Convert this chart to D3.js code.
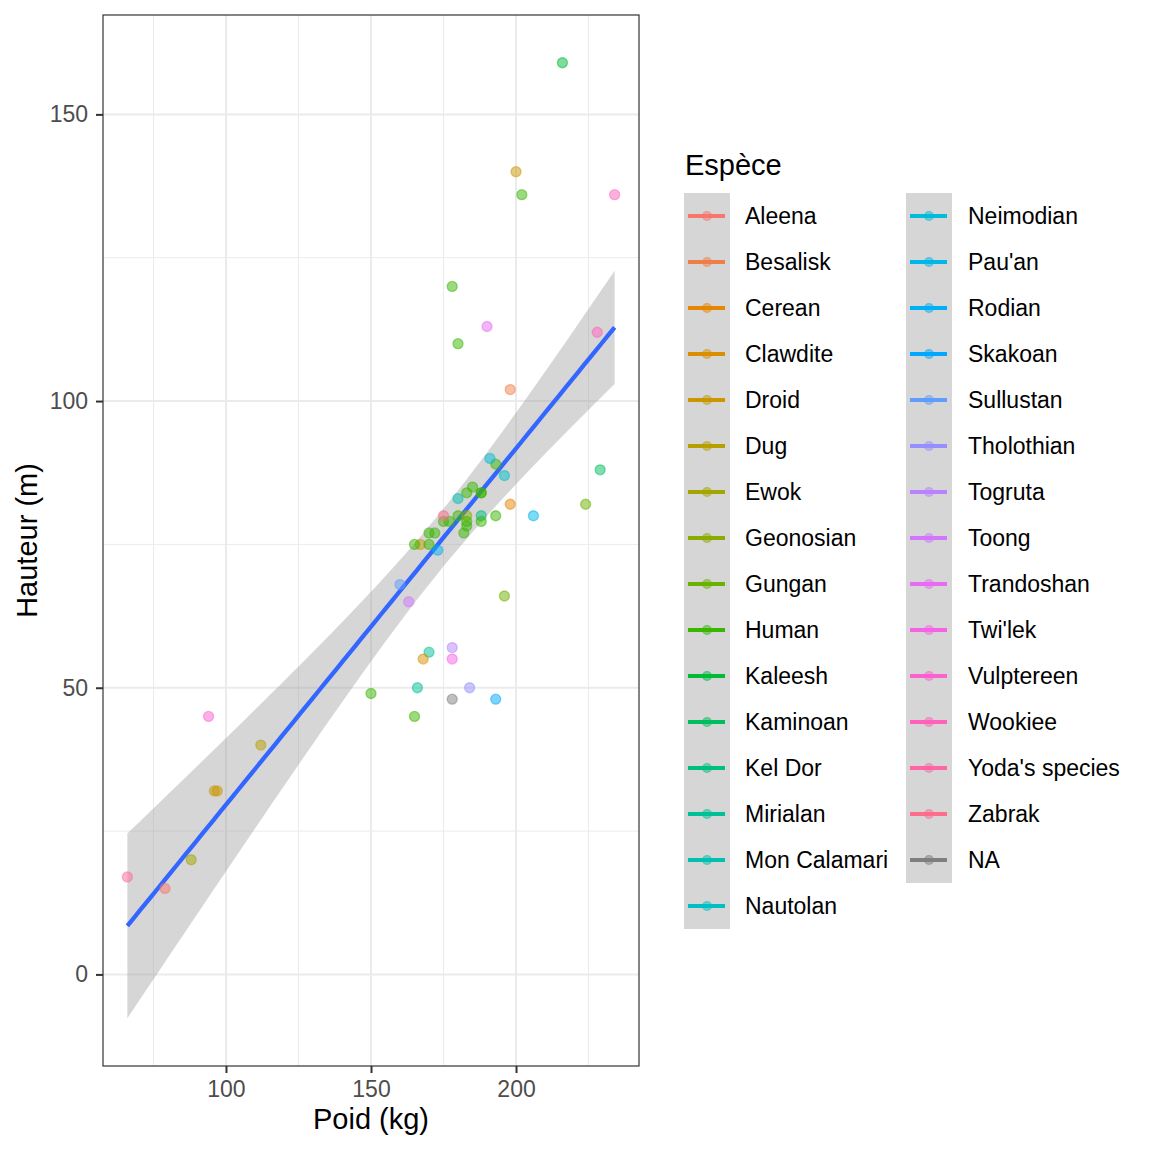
<!DOCTYPE html>
<html>
<head>
<meta charset="utf-8">
<script src="https://cdn.jsdelivr.net/npm/d3@7"></script>
<style>
  html, body { margin: 0; padding: 0; background: #ffffff; }
  svg { display: block; font-family: "Liberation Sans", Arial, Helvetica, sans-serif; }
</style>
</head>
<body>
<svg id="chart" width="1152" height="1152"></svg>
<script>
// ---------------- DATA ----------------
// height (x, labelled "Poid (kg)") and mass (y, labelled "Hauteur (m)") per character
const heights = [172,167,96,202,150,178,165,97,183,182,188,228,180,173,170,180,66,170,183,200,190,177,175,180,88,160,193,191,165,196,224,112,175,178,79,94,163,188,198,196,184,188,185,183,170,166,193,183,168,198,229,193,178,216,234,188,178,206];
const masses  = [77,75,32,136,49,120,75,32,84,77,84,112,80,74,77,110,17,75,78.2,140,113,79,79,83,20,68,89,90,45,66,82,40,80,55,15,45,65,84,82,87,50,80,85,80,56.2,50,80,79,55,102,88,48,57,159,136,79,48,80];
const pointSpecies = ["Human","Droid","Droid","Human","Human","Human","Human","Droid","Human","Human","Human","Wookiee","Human","Rodian","Human","Human","Yoda's species","Human","Human","Droid","Trandoshan","Human","Human","Mon Calamari","Ewok","Sullustan","Human","Neimodian","Human","Gungan","Gungan","Dug","Zabrak","Twi'lek","Aleena","Vulptereen","Toong","Human","Cerean","Nautolan","Tholothian","Kel Dor","Human","Geonosian","Mirialan","Mirialan","Human","Human","Clawdite","Besalisk","Kaminoan","Skakoan","Togruta","Kaleesh","Wookiee","Human","NA","Pau'an"];
const speciesLevels = ["Aleena","Besalisk","Cerean","Clawdite","Droid","Dug","Ewok","Geonosian","Gungan","Human","Kaleesh","Kaminoan","Kel Dor","Mirialan","Mon Calamari","Nautolan","Neimodian","Pau'an","Rodian","Skakoan","Sullustan","Tholothian","Togruta","Toong","Trandoshan","Twi'lek","Vulptereen","Wookiee","Yoda's species","Zabrak"];
const legendLabels = speciesLevels.concat(["NA"]);
const xTitle = "Poid (kg)";
const yTitle = "Hauteur (m)";
const legendTitle = "Espèce";

// ---------------- HELPERS ----------------
// polar LUV (R's hcl) -> hex
function hclLuv(h, c, l) {
  const Xn = 95.047, Yn = 100, Zn = 108.883;
  const hr = h * Math.PI / 180;
  const U = c * Math.cos(hr), V = c * Math.sin(hr);
  const Y = l > 8 ? Yn * Math.pow((l + 16) / 116, 3) : Yn * l / 903.3;
  const den = Xn + 15 * Yn + 3 * Zn;
  const un = 4 * Xn / den, vn = 9 * Yn / den;
  const up = U / (13 * l) + un, vp = V / (13 * l) + vn;
  const X = 9 * Y * up / (4 * vp);
  const Z = Y * (12 - 3 * up - 20 * vp) / (4 * vp);
  const x = X / 100, y = Y / 100, z = Z / 100;
  const lin = [
    3.240479 * x - 1.537150 * y - 0.498535 * z,
   -0.969256 * x + 1.875992 * y + 0.041556 * z,
    0.055648 * x - 0.204043 * y + 1.057311 * z
  ];
  const g = lin.map(v => {
    let s = v <= 0.0031308 ? 12.92 * v : 1.055 * Math.pow(v, 1 / 2.4) - 0.055;
    s = Math.max(0, Math.min(1, s));
    return Math.round(s * 255);
  });
  return d3.rgb(g[0], g[1], g[2]).formatHex();
}
const nLev = speciesLevels.length;
const palette = speciesLevels.map((s, i) => hclLuv(15 + 360 * i / nLev, 100, 65));
const color = d3.scaleOrdinal().domain(speciesLevels).range(palette).unknown("#7F7F7F");
const colorOf = s => (s === "NA" ? "#7F7F7F" : color(s));

// ---------------- LINEAR MODEL ----------------
const n = heights.length;
const xbar = d3.mean(heights), ybar = d3.mean(masses);
let sxx = 0, sxy = 0;
for (let i = 0; i < n; i++) { sxx += (heights[i] - xbar) ** 2; sxy += (heights[i] - xbar) * (masses[i] - ybar); }
const slope = sxy / sxx, intercept = ybar - slope * xbar;
let rss = 0;
for (let i = 0; i < n; i++) rss += (masses[i] - (intercept + slope * heights[i])) ** 2;
const sigma = Math.sqrt(rss / (n - 2));
// t quantile (0.975, df) via Cornish-Fisher expansion
const df = n - 2, z = 1.959963985;
const tq = z + (z ** 3 + z) / (4 * df) + (5 * z ** 5 + 16 * z ** 3 + 3 * z) / (96 * df * df) + (3 * z ** 7 + 19 * z ** 5 + 17 * z ** 3 - 15 * z) / (384 * df ** 3);
const [xmin, xmax] = d3.extent(heights);
const fit = d3.range(80).map(k => {
  const xv = xmin + (xmax - xmin) * k / 79;
  const yv = intercept + slope * xv;
  const se = sigma * Math.sqrt(1 / n + (xv - xbar) ** 2 / sxx);
  return { x: xv, y: yv, lo: yv - tq * se, hi: yv + tq * se };
});

// ---------------- SCALES ----------------
const P = { left: 103, right: 639, top: 15, bottom: 1066 };
function expand(ext) { const r = ext[1] - ext[0]; return [ext[0] - 0.05 * r, ext[1] + 0.05 * r]; }
const xDom = expand([xmin, xmax]);
const yDom = expand([Math.min(d3.min(masses), d3.min(fit, d => d.lo)), Math.max(d3.max(masses), d3.max(fit, d => d.hi))]);
const x = d3.scaleLinear().domain(xDom).range([P.left, P.right]);
const y = d3.scaleLinear().domain(yDom).range([P.bottom, P.top]);
const xMajor = x.ticks(4), yMajor = y.ticks(4);
function minors(maj, dom) {
  const step = maj[1] - maj[0];
  const out = [];
  for (let v = maj[0] - step / 2; v <= maj[maj.length - 1] + step / 2 + 1e-9; v += step) {
    if (v >= dom[0] && v <= dom[1]) out.push(v);
  }
  return out;
}
const xMinor = minors(xMajor, xDom), yMinor = minors(yMajor, yDom);

// ---------------- DRAW ----------------
const svg = d3.select("#chart");
svg.append("rect").attr("width", 1152).attr("height", 1152).attr("fill", "#ffffff");

const grid = svg.append("g");
grid.selectAll(".xmin").data(xMinor).join("line")
  .attr("x1", d => x(d)).attr("x2", d => x(d)).attr("y1", P.top).attr("y2", P.bottom)
  .attr("stroke", "#ebebeb").attr("stroke-width", 1);
grid.selectAll(".ymin").data(yMinor).join("line")
  .attr("y1", d => y(d)).attr("y2", d => y(d)).attr("x1", P.left).attr("x2", P.right)
  .attr("stroke", "#ebebeb").attr("stroke-width", 1);
grid.selectAll(".xmaj").data(xMajor).join("line")
  .attr("x1", d => x(d)).attr("x2", d => x(d)).attr("y1", P.top).attr("y2", P.bottom)
  .attr("stroke", "#ebebeb").attr("stroke-width", 2);
grid.selectAll(".ymaj").data(yMajor).join("line")
  .attr("y1", d => y(d)).attr("y2", d => y(d)).attr("x1", P.left).attr("x2", P.right)
  .attr("stroke", "#ebebeb").attr("stroke-width", 2);

// ribbon + line
svg.append("path").datum(fit)
  .attr("d", d3.area().x(d => x(d.x)).y0(d => y(d.lo)).y1(d => y(d.hi)))
  .attr("fill", "#999999").attr("fill-opacity", 0.4);
svg.append("path").datum(fit)
  .attr("d", d3.line().x(d => x(d.x)).y(d => y(d.y)))
  .attr("fill", "none").attr("stroke", "#3366FF").attr("stroke-width", 4.3);

// points
const pts = heights.map((h, i) => ({ h, m: masses[i], s: pointSpecies[i] }));
svg.append("g").selectAll("circle").data(pts).join("circle")
  .attr("cx", d => x(d.h)).attr("cy", d => y(d.m)).attr("r", 5)
  .attr("fill", d => colorOf(d.s)).attr("fill-opacity", 0.5)
  .attr("stroke", d => colorOf(d.s)).attr("stroke-opacity", 0.5).attr("stroke-width", 1.3);

// panel border
svg.append("rect").attr("x", P.left).attr("y", P.top)
  .attr("width", P.right - P.left).attr("height", P.bottom - P.top)
  .attr("fill", "none").attr("stroke", "#333333").attr("stroke-width", 1.2);

// axes
const xAxis = svg.append("g").attr("transform", `translate(0,${P.bottom})`)
  .call(d3.axisBottom(x).tickValues(xMajor).tickSize(7).tickPadding(8).tickFormat(d3.format("d")));
const yAxis = svg.append("g").attr("transform", `translate(${P.left},0)`)
  .call(d3.axisLeft(y).tickValues(yMajor).tickSize(7).tickPadding(8).tickFormat(d3.format("d")));
[xAxis, yAxis].forEach(a => {
  a.select(".domain").remove();
  a.selectAll(".tick line").attr("stroke", "#333333").attr("stroke-width", 2);
  a.selectAll(".tick text").attr("fill", "#4d4d4d").style("font-size", "23px")
    .style("font-family", '"Liberation Sans", Arial, sans-serif');
});

// axis titles
svg.append("text").attr("x", (P.left + P.right) / 2).attr("y", 1129)
  .attr("text-anchor", "middle").style("font-size", "29px").attr("fill", "#000").text(xTitle);
svg.append("text").attr("transform", `translate(37,${(P.top + P.bottom) / 2}) rotate(-90)`)
  .attr("text-anchor", "middle").style("font-size", "29px").attr("fill", "#000").text(yTitle);

// legend
const lg = svg.append("g");
lg.append("text").attr("x", 685).attr("y", 175).style("font-size", "29px").attr("fill", "#000").text(legendTitle);
const nrow = Math.ceil(legendLabels.length / 2);
const keySize = 46;
legendLabels.forEach((lab, i) => {
  const col = Math.floor(i / nrow), row = i % nrow;
  const kx = col === 0 ? 684 : 906;
  const tx = col === 0 ? 745 : 968;
  const ky = 193 + row * keySize;
  const cy = ky + keySize / 2;
  const c = colorOf(lab);
  lg.append("rect").attr("x", kx).attr("y", ky).attr("width", keySize).attr("height", keySize)
    .attr("fill", "#d6d6d6");
  lg.append("line").attr("x1", kx + 4).attr("x2", kx + 41).attr("y1", cy).attr("y2", cy)
    .attr("stroke", c).attr("stroke-width", 4);
  lg.append("circle").attr("cx", kx + 23).attr("cy", cy).attr("r", 4.5)
    .attr("fill", c).attr("fill-opacity", 0.5).attr("stroke", c).attr("stroke-opacity", 0.5).attr("stroke-width", 1.2);
  lg.append("text").attr("x", tx).attr("y", cy + 8.3).style("font-size", "23px").attr("fill", "#000").text(lab);
});
</script>
</body>
</html>
